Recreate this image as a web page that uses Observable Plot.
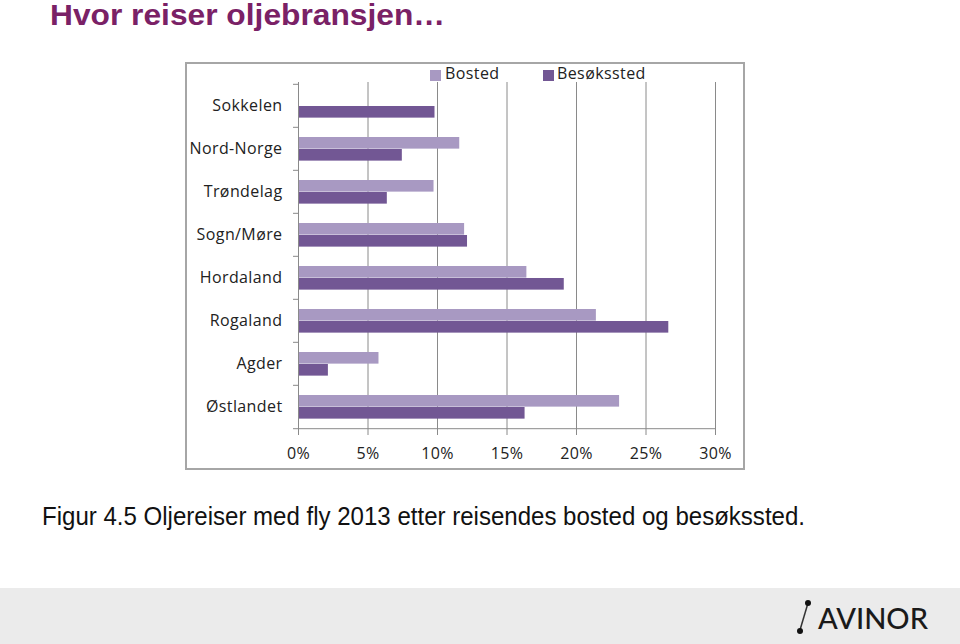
<!DOCTYPE html>
<html>
<head>
<meta charset="utf-8">
<script src="https://cdn.jsdelivr.net/npm/d3@7"></script>
<script src="https://cdn.jsdelivr.net/npm/@observablehq/plot@0.6"></script>
<style>
  html, body { margin: 0; padding: 0; background: #fff; }
  body { width: 960px; height: 644px; position: relative; overflow: hidden; }
  #title { position: absolute; left: 50px; top: 0px; line-height: 30px; font-family: "Liberation Sans", Arial, sans-serif; font-weight: bold; font-size: 29px; color: #7a2166; white-space: nowrap; transform-origin: 0 0; }
  #box { position: absolute; left: 185px; top: 62px; width: 560px; height: 408px; }
  #border { position: absolute; left: 185px; top: 62px; width: 560px; height: 408px; border: 2px solid #a6a6a6; box-sizing: border-box; pointer-events: none; }
  #legend { position: absolute; top: 66px; left: 430px; font-family: "Open Sans", sans-serif; font-size: 16px; color: #222; letter-spacing: 0.4px; }
  .sw { position: absolute; width: 11px; height: 11px; top: 4px; }
  .lt { position: absolute; top: -4px; white-space: nowrap; }
  #caption { position: absolute; left: 42px; top: 502px; font-family: "Liberation Sans", Arial, sans-serif; font-size: 25px; color: #111; white-space: nowrap; transform-origin: 0 0; }
  #footer { position: absolute; left: 0; top: 588px; width: 960px; height: 56px; background: #ebebeb; }
  #logo { position: absolute; left: 795px; top: 598px; }
</style>
</head>
<body>
<div id="title">Hvor reiser oljebransjen…</div>
<div id="box"></div>
<div id="border"></div>
<div id="legend"></div>
<div id="caption">Figur 4.5 Oljereiser med fly 2013 etter reisendes bosted og besøkssted.</div>
<div id="footer"></div>
<svg id="logo" width="140" height="40" viewBox="0 0 140 40">
  <line x1="5" y1="32" x2="13" y2="5" stroke="#333" stroke-width="1.5"/>
  <circle cx="13" cy="5" r="3" fill="#111"/>
  <circle cx="5" cy="33" r="3" fill="#111"/>
  <text id="logotext" x="23" y="31" font-family="Lato, 'Open Sans', sans-serif" font-size="29" font-weight="500" fill="#1a1a1a">AVINOR</text>
</svg>
<script>
const regions = ["Sokkelen", "Nord-Norge", "Trøndelag", "Sogn/Møre", "Hordaland", "Rogaland", "Agder", "Østlandet"];
const seriesNames = ["Bosted", "Besøkssted"];
const bosted = [0, 11.6, 9.75, 11.95, 16.43, 21.43, 5.79, 23.1];
const besokssted = [9.82, 7.47, 6.39, 12.16, 19.12, 26.64, 2.15, 16.3];
const xTicks = [0, 5, 10, 15, 20, 25, 30];
const colors = ["#a899c2", "#725794"];

const rowsB = regions.map((r, i) => ({region: r, series: seriesNames[0], value: bosted[i]}));
const rowsV = regions.map((r, i) => ({region: r, series: seriesNames[1], value: besokssted[i]}));

const W = 560, H = 408, mL = 113, mR = 30, mT = 20, mB = 41;
const band = (H - mT - mB) / regions.length;
const barH = 12;
const gap1 = 10; // space above first bar in band

const grid = "#8a8a8a";
const chart = Plot.plot({
  width: W, height: H,
  marginLeft: mL, marginRight: mR, marginTop: mT, marginBottom: mB,
  style: {fontFamily: "'Open Sans', sans-serif", fontSize: "16px", color: "#222", background: "transparent", letterSpacing: "0.4px"},
  x: {domain: [0, 30], label: null},
  y: {domain: regions, padding: 0, label: null, tickSize: 0, tickPadding: 16},
  color: {domain: seriesNames, range: colors},
  marks: [
    Plot.ruleX(xTicks.slice(1), {stroke: grid, strokeWidth: 1}),
    Plot.barX(rowsB, {x: "value", y: "region", fill: colors[0], insetTop: gap1, insetBottom: band - gap1 - barH}),
    Plot.barX(rowsV, {x: "value", y: "region", fill: colors[1], insetTop: gap1 + barH, insetBottom: band - gap1 - 2 * barH}),
    Plot.ruleX([0], {stroke: grid, strokeWidth: 1}),
    Plot.ruleY(regions, {y: d => d, x1: 0, x2: 0, insetLeft: -5, dy: -band / 2, stroke: grid}),
    Plot.ruleY([regions[regions.length - 1]], {y: d => d, x1: 0, x2: 30, insetLeft: -5, dy: band / 2, stroke: grid}),
    Plot.axisX({ticks: xTicks, tickFormat: d => d + "%", tickSize: 6, tickPadding: 12, stroke: grid, fill: "#222"})
  ]
});
document.getElementById("box").appendChild(chart);

// legend
const leg = document.getElementById("legend");
const legPos = [[0, 15], [113, 127]];
seriesNames.forEach((s, i) => {
  const sw = document.createElement("div");
  sw.className = "sw"; sw.style.left = legPos[i][0] + "px"; sw.style.background = colors[i];
  const t = document.createElement("div");
  t.className = "lt"; t.style.left = legPos[i][1] + "px"; t.textContent = s;
  leg.appendChild(sw); leg.appendChild(t);
});

function fitWidth(id, w) {
  const el = document.getElementById(id);
  const cur = el.getBoundingClientRect().width;
  if (cur > 0) el.style.transform = `scaleX(${w / cur})`;
}
fitWidth("title", 395);
fitWidth("caption", 763);
</script>
</body>
</html>
